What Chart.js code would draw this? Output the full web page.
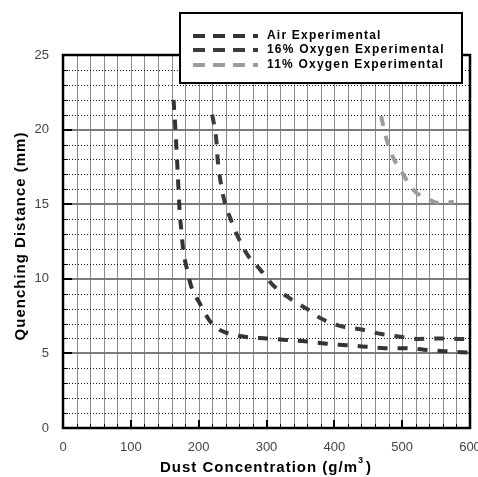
<!DOCTYPE html>
<html>
<head>
<meta charset="utf-8">
<script src="https://cdn.jsdelivr.net/npm/chart.js@4.4.1/dist/chart.umd.min.js"></script>
<style>
  html, body { margin: 0; padding: 0; background: #fff; }
  #wrap { width: 478px; height: 477px; }
</style>
</head>
<body>
<div id="wrap"><canvas id="chart"></canvas></div>
<script>
// dust concentration (g/m3) vs quenching distance (mm)
const airX = [163, 166, 169, 172, 175, 177, 182, 189, 201, 216, 230, 243, 270, 300, 329, 359, 388, 418, 446, 474, 503, 532, 562, 600];
const airY = [22, 19.8, 17.2, 14.5, 13, 12, 10.8, 9.5, 8.4, 7.2, 6.6, 6.35, 6.1, 6.0, 5.9, 5.8, 5.65, 5.55, 5.45, 5.35, 5.35, 5.25, 5.15, 5.05];

const o16X = [220, 226, 228, 232, 238, 248, 259, 272, 291, 309, 334, 359, 382, 412, 440, 469, 499, 525, 554, 584, 600];
const o16Y = [21, 19.3, 18, 16.6, 15.2, 13.9, 12.7, 11.6, 10.6, 9.6, 8.7, 8.0, 7.3, 6.8, 6.6, 6.3, 6.1, 5.97, 6.0, 5.97, 5.95];

const o11X = [469, 476, 485, 500, 518, 540, 554, 576];
const o11Y = [20.9, 19.5, 18.3, 17.1, 15.9, 15.3, 15.1, 15.15];

const seriesLabels = ['Air Experimental', '16% Oxygen Experimental', '11% Oxygen Experimental'];
const seriesColors = ['#333333', '#3c3c3c', '#9c9c9c'];

const xMin = 0, xMax = 600, xStep = 20, xLabelStep = 100;
const yMin = 0, yMax = 25, yStep = 1, yLabelStep = 5;

const toPoints = (xs, ys) => xs.map((x, i) => ({ x: x, y: ys[i] }));

const FONT = "'Liberation Sans', Arial, sans-serif";

// grid, frame and inward tick marks
const frame = {
  id: 'frame',
  beforeDatasetsDraw(chart) {
    const { ctx, chartArea: a, scales: { x, y } } = chart;
    ctx.save();
    // vertical grid: solid grey
    ctx.strokeStyle = '#8a8a8a';
    ctx.lineWidth = 1;
    x.ticks.forEach(t => {
      if (t.value <= xMin || t.value >= xMax) return;
      const px = Math.round(x.getPixelForValue(t.value)) + 0.5;
      ctx.beginPath(); ctx.moveTo(px, a.top); ctx.lineTo(px, a.bottom); ctx.stroke();
    });
    // horizontal grid: dotted minor, solid major
    y.ticks.forEach(t => {
      if (t.value <= yMin || t.value >= yMax) return;
      const py = Math.round(y.getPixelForValue(t.value));
      ctx.beginPath();
      if (t.value % yLabelStep === 0) {
        ctx.setLineDash([]);
        ctx.strokeStyle = '#7a7a7a';
        ctx.lineWidth = 2;
        ctx.moveTo(a.left, py); ctx.lineTo(a.right, py);
      } else {
        ctx.setLineDash([1, 2]);
        ctx.strokeStyle = '#111';
        ctx.lineWidth = 1;
        ctx.moveTo(a.left, py + 0.5); ctx.lineTo(a.right, py + 0.5);
      }
      ctx.stroke();
    });
    ctx.restore();
  },
  afterDatasetsDraw(chart) {
    const { ctx, chartArea: a, scales: { x, y } } = chart;
    ctx.save();
    ctx.strokeStyle = '#000';
    // ticks on bottom axis
    x.ticks.forEach(t => {
      const px = Math.round(x.getPixelForValue(t.value));
      const major = t.value % xLabelStep === 0;
      ctx.lineWidth = major ? 2 : 1;
      ctx.beginPath();
      ctx.moveTo(px + (major ? 0 : 0.5), a.bottom);
      ctx.lineTo(px + (major ? 0 : 0.5), a.bottom - (major ? 8 : 4));
      ctx.stroke();
    });
    // ticks on left axis
    y.ticks.forEach(t => {
      const py = Math.round(y.getPixelForValue(t.value));
      const major = t.value % yLabelStep === 0;
      ctx.lineWidth = major ? 2 : 1;
      ctx.beginPath();
      ctx.moveTo(a.left, py + (major ? 0 : 0.5));
      ctx.lineTo(a.left + (major ? 9 : 5), py + (major ? 0 : 0.5));
      ctx.stroke();
    });
    ctx.lineWidth = 2.5;
    ctx.strokeRect(a.left, a.top, a.right - a.left, a.bottom - a.top);
    ctx.restore();
  },
  afterDraw(chart) {
    const { ctx } = chart;
    ctx.save();
    ctx.fillStyle = '#000';
    // axis titles
    ctx.font = 'bold 15px ' + FONT;
    ctx.letterSpacing = '1px';
    ctx.textBaseline = 'middle';
    ctx.textAlign = 'center';
    ctx.save();
    ctx.translate(21, 236);
    ctx.rotate(-Math.PI / 2);
    ctx.fillText('Quenching Distance (mm)', 0, 0);
    ctx.restore();

    const main = 'Dust Concentration (g/m';
    const wMain = ctx.measureText(main).width;
    ctx.font = 'bold 9px ' + FONT;
    const wSup = ctx.measureText('3').width;
    ctx.font = 'bold 15px ' + FONT;
    const wEnd = ctx.measureText(')').width;
    const total = wMain + wSup + 2 + wEnd;
    let tx = 266 - total / 2;
    ctx.textAlign = 'left';
    ctx.fillText(main, tx, 468);
    tx += wMain;
    ctx.font = 'bold 9px ' + FONT;
    ctx.fillText('3', tx, 461);
    tx += wSup + 2;
    ctx.font = 'bold 15px ' + FONT;
    ctx.fillText(')', tx, 468);

    // legend box
    const bx = 180, by = 13, bw = 282, bh = 70;
    ctx.fillStyle = '#fff';
    ctx.fillRect(bx, by, bw, bh);
    ctx.strokeStyle = '#000';
    ctx.lineWidth = 2;
    ctx.strokeRect(bx, by, bw, bh);
    const rows = [36, 50, 65];
    chart.data.datasets.forEach((ds, i) => {
      ctx.strokeStyle = ds.borderColor;
      ctx.lineWidth = 4;
      ctx.setLineDash([12, 8]);
      ctx.beginPath();
      ctx.moveTo(193, rows[i]);
      ctx.lineTo(258, rows[i]);
      ctx.stroke();
      ctx.setLineDash([]);
      ctx.fillStyle = '#000';
      ctx.font = 'bold 12px ' + FONT;
      ctx.letterSpacing = '1.2px';
      ctx.textAlign = 'left';
      ctx.textBaseline = 'middle';
      ctx.fillText(ds.label, 267, rows[i]);
    });
    ctx.restore();
  }
};

new Chart(document.getElementById('chart'), {
  type: 'line',
  data: {
    datasets: [
      { label: seriesLabels[0], data: toPoints(airX, airY) },
      { label: seriesLabels[1], data: toPoints(o16X, o16Y) },
      { label: seriesLabels[2], data: toPoints(o11X, o11Y) },
    ].map((ds, i) => Object.assign(ds, {
      borderColor: seriesColors[i],
      backgroundColor: seriesColors[i],
      borderWidth: 4,
      borderDash: [10, 10],
      pointRadius: 0,
      fill: false,
      cubicInterpolationMode: 'monotone',
    }))
  },
  options: {
    responsive: true,
    maintainAspectRatio: false,
    animation: false,
    layout: { padding: { top: 55, right: 8, left: 0, bottom: 0 } },
    plugins: {
      legend: { display: false },
      tooltip: { enabled: false }
    },
    scales: {
      x: {
        type: 'linear',
        min: xMin,
        max: xMax,
        grid: { display: false },
        border: { display: false },
        // let the "600" label run past the edge, as in the original
        afterFit: s => { s.height = 49; s.paddingRight = 0; s.paddingLeft = 0; },
        ticks: {
          stepSize: xStep,
          autoSkip: false,
          maxRotation: 0,
          padding: 4,
          color: '#444',
          font: { family: FONT, size: 13 },
          callback: v => (v % xLabelStep === 0 ? String(v) : '')
        }
      },
      y: {
        type: 'linear',
        min: yMin,
        max: yMax,
        grid: { display: false },
        border: { display: false },
        afterFit: s => { s.width = 63; s.paddingTop = 0; s.paddingBottom = 0; },
        ticks: {
          stepSize: yStep,
          autoSkip: false,
          padding: 6,
          color: '#444',
          font: { family: FONT, size: 13 },
          callback: v => (v % yLabelStep === 0 ? String(v) : '')
        }
      }
    }
  },
  plugins: [frame]
});
</script>
</body>
</html>
